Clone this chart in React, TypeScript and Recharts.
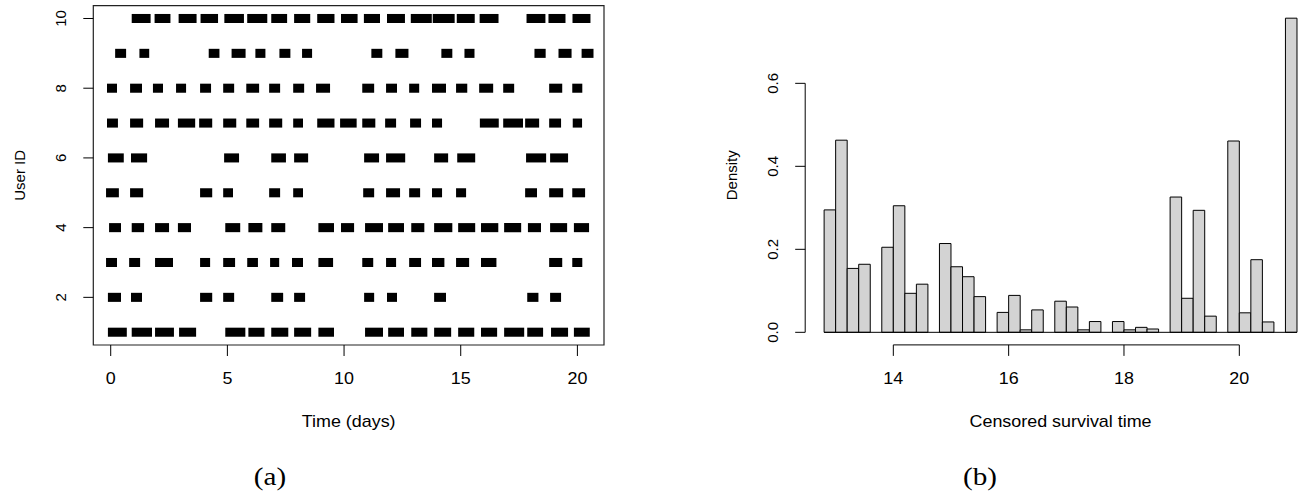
import React from 'react';
import { ComposedChart, XAxis, YAxis, ReferenceArea, ReferenceLine, Label } from 'recharts';

const FONT = '"Liberation Sans", Arial, Helvetica, sans-serif';
const SERIF = '"Liberation Serif", "DejaVu Serif", serif';
const STRETCH = 1.12; // the source figure is a bit wider than tall

// ---- (a) sessions per user: [start, end] in days, as drawn ----
const USER_IDS = [1, 2, 3, 4, 5, 6, 7, 8, 9, 10];
const TIME_TICKS = [0, 5, 10, 15, 20];
const USER_TICKS = [2, 4, 6, 8, 10];

const USER_1 = [[-0.12, 0.69], [0.9, 1.77], [1.9, 2.71], [2.93, 3.66], [4.91, 5.77], [5.9, 6.59], [6.88, 7.61], [7.86, 8.59], [8.9, 9.57], [10.9, 11.67], [11.89, 12.57], [12.88, 13.57], [13.86, 14.59], [14.89, 15.58], [15.87, 16.56], [16.86, 17.72], [17.85, 18.53], [18.87, 19.6], [19.85, 20.53]];
const USER_2 = [[-0.12, 0.44], [0.87, 1.34], [3.83, 4.35], [4.82, 5.29], [6.88, 7.39], [7.86, 8.33], [10.86, 11.29], [11.84, 12.27], [13.86, 14.37], [17.85, 18.33], [18.83, 19.3]];
const USER_3 = [[-0.2, 0.27], [0.79, 1.26], [1.9, 2.67], [3.83, 4.26], [4.82, 5.33], [5.85, 6.31], [6.83, 7.22], [7.77, 8.24], [8.9, 9.53], [10.78, 11.25], [11.8, 12.23], [12.79, 13.3], [13.77, 14.3], [14.8, 15.36], [15.87, 16.53], [18.79, 19.35], [19.78, 20.21]];
const USER_4 = [[-0.07, 0.44], [0.9, 1.43], [1.9, 2.5], [2.88, 3.44], [4.91, 5.55], [5.9, 6.5], [6.88, 7.48], [8.9, 9.57], [9.87, 10.43], [10.9, 11.67], [11.89, 12.57], [12.88, 13.44], [13.86, 14.64], [14.89, 15.62], [15.87, 16.61], [16.86, 17.59], [17.88, 18.44], [18.83, 19.56], [19.85, 20.5]];
const USER_5 = [[-0.2, 0.35], [0.83, 1.39], [3.83, 4.35], [4.82, 5.24], [6.79, 7.26], [7.82, 8.24], [10.82, 11.29], [11.8, 12.4], [12.79, 13.26], [13.77, 14.2], [14.8, 15.23], [17.76, 18.27], [18.79, 19.39], [19.78, 20.33]];
const USER_6 = [[-0.12, 0.56], [0.87, 1.56], [4.86, 5.5], [6.88, 7.51], [7.86, 8.46], [10.86, 11.5], [11.8, 12.62], [13.86, 14.46], [14.85, 15.62], [17.8, 18.66], [18.83, 19.6]];
const USER_7 = [[-0.16, 0.31], [0.83, 1.39], [1.9, 2.5], [2.88, 3.62], [3.79, 4.35], [4.82, 5.38], [5.81, 6.36], [6.79, 7.35], [7.82, 8.24], [8.85, 9.59], [9.83, 10.54], [10.78, 11.34], [11.76, 12.23], [12.83, 13.3], [13.77, 14.2], [15.82, 16.63], [16.82, 17.67], [17.76, 18.36], [18.79, 19.3], [19.8, 20.2]];
const USER_8 = [[-0.16, 0.27], [0.83, 1.34], [1.81, 2.24], [2.8, 3.23], [3.83, 4.3], [4.82, 5.29], [5.81, 6.36], [6.79, 7.26], [7.82, 8.29], [8.8, 9.4], [10.78, 11.29], [11.8, 12.27], [12.79, 13.22], [13.77, 14.37], [14.8, 15.28], [15.79, 16.39], [16.82, 17.29], [18.79, 19.35], [19.78, 20.21]];
const USER_9 = [[0.19, 0.66], [1.23, 1.65], [4.2, 4.66], [5.18, 5.78], [6.2, 6.63], [7.23, 7.7], [8.2, 8.63], [11.17, 11.64], [12.2, 12.76], [14.17, 14.64], [15.16, 15.59], [18.16, 18.64], [19.19, 19.75], [20.18, 20.69]];
const USER_10 = [[0.9, 1.71], [1.88, 2.56], [2.91, 3.68], [3.85, 4.6], [4.87, 5.71], [5.85, 6.71], [6.88, 7.56], [7.86, 8.55], [8.85, 9.59], [9.87, 10.58], [10.85, 11.54], [11.84, 12.61], [12.86, 13.76], [13.8, 14.74], [14.83, 15.6], [15.81, 16.62], [17.82, 18.63], [18.76, 19.49], [19.79, 20.56]];

const USER_SESSIONS = [USER_1, USER_2, USER_3, USER_4, USER_5, USER_6, USER_7, USER_8, USER_9, USER_10];

// ---- (b) histogram of censored survival time ----
const BIN_WIDTH = 0.2;
const BIN_STARTS = [12.8, 13.0, 13.2, 13.4, 13.6, 13.8, 14.0, 14.2, 14.4, 14.6, 14.8, 15.0, 15.2, 15.4, 15.6, 15.8, 16.0, 16.2, 16.4, 16.6, 16.8, 17.0, 17.2, 17.4, 17.6, 17.8, 18.0, 18.2, 18.4, 18.6, 18.8, 19.0, 19.2, 19.4, 19.6, 19.8, 20.0, 20.2, 20.4, 20.6, 20.8];
const DENSITY = [0.295, 0.463, 0.154, 0.164, 0, 0.205, 0.305, 0.094, 0.116, 0, 0.214, 0.158, 0.134, 0.086, 0, 0.048, 0.089, 0.006, 0.054, 0, 0.075, 0.061, 0.006, 0.026, 0, 0.026, 0.006, 0.012, 0.008, 0, 0.326, 0.082, 0.294, 0.039, 0, 0.461, 0.047, 0.175, 0.025, 0, 0.757];
const SURV_TICKS = [14, 16, 18, 20];
const DENS_TICKS = [0, 0.2, 0.4, 0.6];

// R style axis ranges (data range padded by 4%)
const TIME_DOMAIN = [-0.746, 21.14];
const USER_DOMAIN = [0.633, 10.367];
const SURV_DOMAIN = [12.472, 21.328];
const DENS_DOMAIN = [-0.0303, 0.7873];

const BottomTick = (props: any) => {
  const { x, y, payload, fmt } = props;
  return (
    <g transform={`translate(${x},${y}) scale(${STRETCH},1)`}>
      <text x={0} y={0} dy={28.5} textAnchor="middle" fontFamily={FONT} fontSize={16} fill="#000">
        {fmt ? fmt(payload.value) : payload.value}
      </text>
    </g>
  );
};

const SideTick = (props: any) => {
  const { x, y, payload, fmt } = props;
  return (
    <text transform={`translate(${x - 17},${y}) rotate(-90)`} textAnchor="middle" fontFamily={FONT} fontSize={15} fill="#000">
      {fmt ? fmt(payload.value) : payload.value}
    </text>
  );
};

const bottomTitle = (text: string) => (props: any) => {
  const vb = props.viewBox;
  return (
    <g transform={`translate(${vb.x + vb.width / 2},${vb.y + 82}) scale(${STRETCH},1)`}>
      <text x={0} y={0} textAnchor="middle" fontFamily={FONT} fontSize={16} fill="#000">{text}</text>
    </g>
  );
};

const sideTitle = (text: string) => (props: any) => {
  const vb = props.viewBox;
  return (
    <text transform={`translate(${vb.x + vb.width - 68.6},${vb.y + vb.height / 2}) rotate(-90)`} textAnchor="middle" fontFamily={FONT} fontSize={15} fill="#000">
      {text}
    </text>
  );
};

const fmtDensity = (v: number) => v.toFixed(1);

function SessionChart() {
  return (
    <ComposedChart width={620} height={493} data={[]} margin={{ top: 5.7, right: 16, bottom: 118, left: 0 }}>
      <XAxis
        type="number"
        dataKey="t"
        domain={TIME_DOMAIN}
        allowDataOverflow
        ticks={TIME_TICKS}
        interval={0}
        height={30}
        axisLine={false}
        tickLine={{ stroke: '#000' }}
        tickSize={11}
        tickMargin={0}
        tick={(p: any) => <BottomTick {...p} />}
      >
        <Label content={bottomTitle('Time (days)')} />
      </XAxis>
      <YAxis
        type="number"
        dataKey="u"
        domain={USER_DOMAIN}
        allowDataOverflow
        ticks={USER_TICKS}
        interval={0}
        width={93.3}
        axisLine={false}
        tickLine={{ stroke: '#000' }}
        tickSize={10}
        tickMargin={0}
        tick={(p: any) => <SideTick {...p} />}
      >
        <Label content={sideTitle('User ID')} />
      </YAxis>
      {USER_SESSIONS.map((sessions, i) =>
        sessions.map(([start, end], j) => (
          <ReferenceArea
            key={`s-${i}-${j}`}
            x1={start}
            x2={end}
            y1={USER_IDS[i] - 0.13}
            y2={USER_IDS[i] + 0.13}
            fill="#000"
            fillOpacity={1}
            stroke="none"
            ifOverflow="visible"
          />
        ))
      )}
      <ReferenceArea
        x1={TIME_DOMAIN[0]}
        x2={TIME_DOMAIN[1]}
        y1={USER_DOMAIN[0]}
        y2={USER_DOMAIN[1]}
        fill="none"
        fillOpacity={0}
        stroke="#222"
        strokeWidth={1.2}
        ifOverflow="visible"
      />
    </ComposedChart>
  );
}

function HistogramChart() {
  const lastEdge = BIN_STARTS[BIN_STARTS.length - 1] + BIN_WIDTH;
  return (
    <ComposedChart width={700} height={493} data={[]} margin={{ top: 5.6, right: 34.1, bottom: 118.1, left: 0 }}>
      <XAxis
        type="number"
        dataKey="x"
        domain={SURV_DOMAIN}
        allowDataOverflow
        ticks={SURV_TICKS}
        interval={0}
        height={30}
        axisLine={false}
        tickLine={{ stroke: '#000' }}
        tickSize={11}
        tickMargin={0}
        tick={(p: any) => <BottomTick {...p} />}
      >
        <Label content={bottomTitle('Censored survival time')} />
      </XAxis>
      <YAxis
        type="number"
        dataKey="d"
        domain={DENS_DOMAIN}
        allowDataOverflow
        ticks={DENS_TICKS}
        interval={0}
        width={155.2}
        axisLine={false}
        tickLine={{ stroke: '#000' }}
        tickSize={10}
        tickMargin={0}
        tick={(p: any) => <SideTick {...p} fmt={fmtDensity} />}
      >
        <Label content={sideTitle('Density')} />
      </YAxis>
      {BIN_STARTS.map((b, i) =>
        DENSITY[i] > 0 ? (
          <ReferenceArea
            key={`bin-${i}`}
            x1={b}
            x2={b + BIN_WIDTH}
            y1={0}
            y2={DENSITY[i]}
            fill="#d3d3d3"
            fillOpacity={1}
            stroke="#000"
            strokeWidth={1}
            ifOverflow="visible"
          />
        ) : null
      )}
      <ReferenceLine
        segment={[{ x: BIN_STARTS[0], y: 0 }, { x: lastEdge, y: 0 }]}
        stroke="#000"
        ifOverflow="visible"
      />
      <ReferenceLine
        segment={[{ x: SURV_TICKS[0], y: DENS_DOMAIN[0] }, { x: SURV_TICKS[SURV_TICKS.length - 1], y: DENS_DOMAIN[0] }]}
        stroke="#000"
        ifOverflow="visible"
      />
      <ReferenceLine
        segment={[{ x: SURV_DOMAIN[0], y: DENS_TICKS[0] }, { x: SURV_DOMAIN[0], y: DENS_TICKS[DENS_TICKS.length - 1] }]}
        stroke="#000"
        ifOverflow="visible"
      />
    </ComposedChart>
  );
}

const captionStyle: React.CSSProperties = {
  position: 'absolute',
  top: 464,
  width: 80,
  marginLeft: -40,
  textAlign: 'center',
  fontFamily: SERIF,
  fontSize: 26,
  lineHeight: 1,
  transform: `scaleX(${STRETCH})`,
  color: '#000',
};

export default function App() {
  return (
    <div style={{ position: 'fixed', left: 0, top: 0, width: 1303, height: 493, overflow: 'hidden', background: '#fff' }}>
      <div style={{ position: 'absolute', left: 0, top: 0 }}>
        <SessionChart />
      </div>
      <div style={{ position: 'absolute', left: 650, top: 0 }}>
        <HistogramChart />
      </div>
      <div style={{ ...captionStyle, left: 270 }}>(a)</div>
      <div style={{ ...captionStyle, left: 980 }}>(b)</div>
    </div>
  );
}
